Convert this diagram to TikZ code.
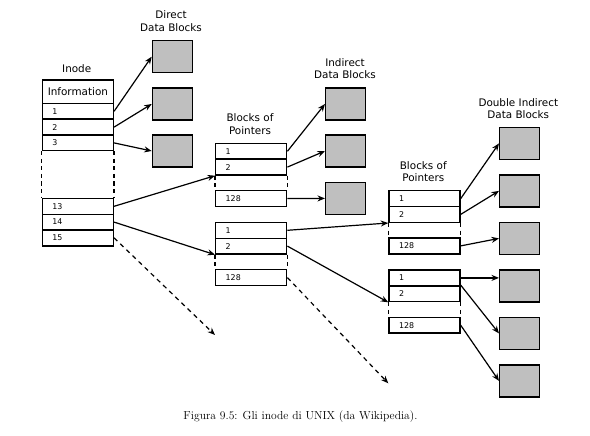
\documentclass[tikz,border=0pt]{standalone}
\usepackage{fontspec}
\setsansfont{DejaVu Sans}
\usetikzlibrary{arrows.meta}
\begin{document}
\begin{tikzpicture}[x=1pt,y=-1pt,
  cell/.style={draw, line width=1.4pt, anchor=north west, inner xsep=10pt, inner ysep=0pt,
    text width=51pt, minimum height=15.8pt, align=left, font=\sffamily\fontsize{7.9}{9}\selectfont},
  infocell/.style={draw, line width=1.4pt, anchor=north west, inner sep=0pt,
    minimum width=71pt, minimum height=23.4pt, font=\sffamily\fontsize{10.4}{12.3}\selectfont},
  datablk/.style={draw, fill=gray!50, line width=1.4pt, anchor=north west, inner sep=0pt,
    minimum width=40pt, minimum height=32pt},
  lbl/.style={align=center, inner sep=0pt, font=\sffamily\fontsize{10.4}{12.3}\selectfont},
  ptr/.style={line width=1.2pt, -{Stealth[length=7.5pt,width=6pt]}},
  gap/.style={line width=1.4pt, dash pattern=on 4pt off 3.5pt}]
\useasboundingbox (0,0) rectangle (590,436);
% inode
\node[lbl] (tinode) at (76.7,68.3) {Inode};
\node[infocell] (iinfo) at (41.7,79.3) {Information};
\foreach \r/\y in {1/102.7, 2/118.5, 3/134.3, 13/197.7, 14/213.5, 15/229.3}
 \node[cell] (i\r) at (41.7,\y) {\r};
\draw[gap] (i3.south west) -- (i13.north west) (i3.south east) -- (i13.north east);
% blocks of pointers
\foreach \n/\x/\y in {a/215/142.7, b/215/221.7, c/388.3/190, d/388.3/269.3} {
 \node[cell] (p\n1) at ({\x},{\y}) {1};
 \node[cell] (p\n2) at ({\x},{\y+15.8}) {2};
 \node[cell] (p\n128) at ({\x},{\y+47.3}) {128};
 \draw[gap] (p\n2.south west) -- (p\n128.north west) (p\n2.south east) -- (p\n128.north east);
}
\node[lbl] (tptra) at (250,124.2) {Blocks of\\Pointers};
\node[lbl] (tptrc) at (423.3,171.5) {Blocks of\\Pointers};
% data blocks
\foreach \k/\y in {1/40, 2/87.3, 3/134.3}
 \node[datablk] (d\k) at (151.7,\y) {};
\foreach \k/\y in {1/87.3, 2/134.3, 3/181.7}
 \node[datablk] (n\k) at (325,\y) {};
\foreach \k in {1,...,6}
 \node[datablk] (q\k) at (499,{126.7+47.5*(\k-1)}) {};
\node[lbl] (tdirect) at (171,21.2) {Direct\\Data Blocks};
\node[lbl] (tindirect) at (345,68.7) {Indirect\\Data Blocks};
\node[lbl] (tdouble) at (518.3,108.5) {Double Indirect\\Data Blocks};
% pointers
\foreach \k in {1,2,3} {
 \draw[ptr] (i\k.east) -- (d\k.west);
 \draw[ptr] (pc\ifnum\k=3 128\else\k\fi.east) -- (q\k.west);
}
\draw[ptr] (pa1.east) -- (n1.west);
\draw[ptr] (pa2.east) -- (n2.west);
\draw[ptr] (pa128.east) -- (n3.west);
\draw[ptr] (i13.east) -- (pa2.south west);
\draw[ptr] (i14.east) -- (pb2.south west);
\draw[ptr] (pb1.east) -- (pc2.south west);
\draw[ptr] (pb2.east) -- (pd2.south west);
\draw[ptr] (pd1.east) -- (pd1.east -| q4.west);
\draw[ptr] (pd2.north east) -- (q5.west);
\draw[ptr] (pd128.east) -- (q6.west);
\coordinate (ea) at (215,335);
\coordinate (eb) at (388.3,383.3);
\draw[ptr, dash pattern=on 4.5pt off 4pt] (i15.east) -- (ea);
\draw[ptr, dash pattern=on 4.5pt off 4pt] (pb128.east) -- (eb);
% caption
\node[inner sep=0pt, font=\fontsize{11.6}{14}\selectfont] (cap) at (300.5,416.7)
 {Figura 9.5: Gli inode di UNIX (da Wikipedia).};
\end{tikzpicture}
\end{document}
